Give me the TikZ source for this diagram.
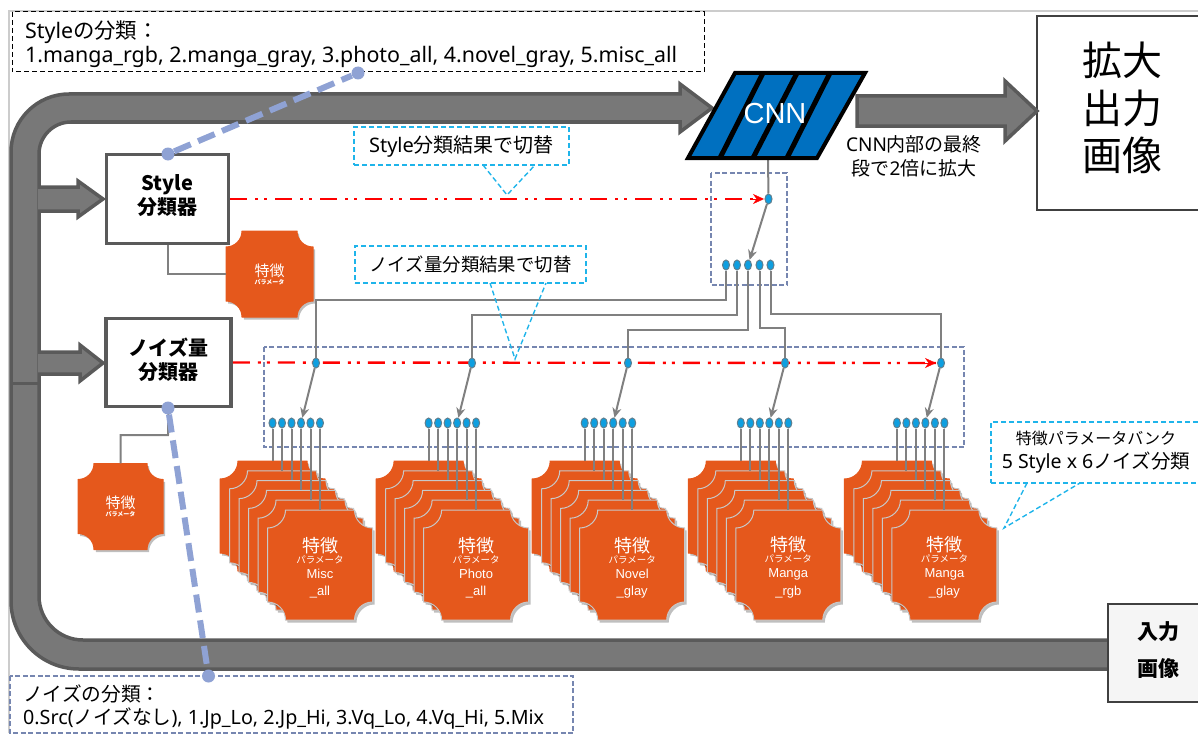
\documentclass[tikz,border=0pt]{standalone}
\usepackage{fontspec}
\setmainfont{Noto Sans}
\newfontfamily\jpfont{Noto Sans CJK JP}
\newfontfamily\arialfont{Liberation Sans}
\usetikzlibrary{positioning, arrows.meta, shapes.geometric}
\definecolor{bandfill}{HTML}{787878}
\definecolor{bandline}{HTML}{5A5A5A}
\definecolor{cardfill}{HTML}{E5581C}
\definecolor{cardline}{HTML}{C8C8C8}
\definecolor{cnnfill}{HTML}{0070C0}
\definecolor{pinblue}{HTML}{8FA2D4}
\definecolor{calloutblue}{HTML}{1FB4EA}
\definecolor{dotblue}{HTML}{0E9FE0}
\definecolor{dotline}{HTML}{5F7F8F}
\definecolor{navydash}{HTML}{7686B0}
\definecolor{wiregray}{HTML}{808080}
\definecolor{framegray}{HTML}{CCCCCC}

% card with hollow corners: name, centre x, centre y, half width, half height, corner, edge colour
\newcommand{\paramcard}[7]{
  \begin{scope}[shift={(#2,#3)}]
    \fill[black, opacity=0.25, shift={(2,2.5)}] \cardoutline{#4}{#5}{#6};
    \filldraw[fill=cardfill, draw=#7, line width=1pt] \cardoutline{#4}{#5}{#6};
  \end{scope}
  \node[minimum width=2*#4pt, minimum height=2*#5pt, inner sep=0pt] (#1) at (#2,#3) {};
}
\newcommand{\cardoutline}[3]{
  ({-#1+#3},{-#2}) -- ({#1-#3},{-#2})
  .. controls ({#1-#3},{-#2+0.55*#3}) and ({#1-0.55*#3},{-#2+#3}) .. ({#1},{-#2+#3})
  -- ({#1},{#2-#3})
  .. controls ({#1-0.55*#3},{#2-#3}) and ({#1-#3},{#2-0.55*#3}) .. ({#1-#3},{#2})
  -- ({-#1+#3},{#2})
  .. controls ({-#1+#3},{#2-0.55*#3}) and ({-#1+0.55*#3},{#2-#3}) .. ({-#1},{#2-#3})
  -- ({-#1},{-#2+#3})
  .. controls ({-#1+0.55*#3},{-#2+#3}) and ({-#1+#3},{-#2+0.55*#3}) .. cycle
}

\begin{document}
\begin{tikzpicture}[
    x=1pt, y=-1pt,
    >=Stealth,
    bandarrow/.style={fill=bandfill, draw=bandline, line width=3.5pt, line join=miter},
    clfbox/.style={draw=bandline, line width=3.5pt, fill=white, inner sep=0pt},
    clftext/.style={inner sep=0pt, align=center, font=\jpfont\bfseries\fontsize{20}{24}\selectfont},
    notebox/.style={fill=white, align=left, anchor=west, inner sep=0pt},
    callout/.style={draw=calloutblue, line width=1.4pt, dash pattern=on 5pt off 3pt, fill=white,
                    align=center, inner sep=0pt},
    calloutedge/.style={draw=calloutblue, line width=1.4pt, dash pattern=on 5pt off 3pt},
    wire/.style={draw=wiregray, line width=2pt},
    switcharrow/.style={draw=wiregray, line width=2pt, -{Stealth[length=10pt, width=9pt]}},
    seldot/.style={ellipse, draw=dotline, fill=dotblue, line width=1pt, minimum width=7pt,
                   minimum height=10pt, inner sep=0pt},
    redchain/.style={draw=red, line width=2.4pt, dash pattern=on 17pt off 8pt on 3pt off 6pt on 3pt off 8pt},
    redtip/.style={draw=red, -{Stealth[length=11pt, width=10pt]}},
    navybox/.style={draw=navydash, line width=1.1pt, dash pattern=on 5pt off 2.5pt},
    bluepin/.style={circle, fill=pinblue, minimum size=13pt, inner sep=0pt},
    bluedash/.style={draw=pinblue, line width=6pt, dash pattern=on 18pt off 8pt},
    cardtext/.style={text=white, align=center, inner sep=0pt},
]
\path[use as bounding box, clip] (0,0) rectangle (1198,733);

% frame
\draw[framegray, line width=1.5pt] (9,733) -- (9,11) -- (1198,11);

% input band round to the CNN
\draw[bandarrow] (1115,669) [rounded corners=68pt] -- (11,669) [rounded corners=58pt] -- (11,94)
  [sharp corners] -- (680,94) -- (680,84) -- (712,108) -- (680,132) -- (680,122)
  [rounded corners=32pt] -- (39,122) [rounded corners=44pt] -- (39,640) [sharp corners] -- (1115,640) -- cycle;
\draw[bandline, line width=3pt] (12,383) -- (38,383);

% branch arrows
\draw[bandarrow] (38,187) -- (78,187) -- (78,181) -- (103,199) -- (78,217) -- (78,211) -- (38,211);
\draw[bandarrow] (38,352) -- (80,352) -- (80,345) -- (103,363) -- (80,381) -- (80,374) -- (38,374);

% classifiers
\node[clfbox, minimum width=122pt, minimum height=89pt] (styleclf) at (167.5,199) {};
\node[clftext] (styleclftext) at (167.5,196) {Style\\分類器};
\node[clfbox, minimum width=125pt, minimum height=88pt] (noiseclf) at (168.5,362.5) {};
\node[clftext] (noiseclftext) at (168.5,360) {ノイズ量\\分類器};

% parameter cards of the classifiers
\paramcard{stylecard}{269.5}{274}{43.5}{43}{16}{cardfill}
\node[cardtext] (stylecardtext) at (269.5,274) {{\jpfont\fontsize{15}{17}\selectfont 特徴}\\[-4pt]{\jpfont\bfseries\fontsize{6}{8}\selectfont パラメータ}};
\paramcard{noisecard}{120.5}{506.5}{42.5}{43}{16}{cardfill}
\node[cardtext] (noisecardtext) at (120.5,506.5) {{\jpfont\fontsize{15}{17}\selectfont 特徴}\\[-4pt]{\jpfont\bfseries\fontsize{6}{8}\selectfont パラメータ}};
\draw[wire] (styleclf.south) -- (styleclf.south |- stylecard.west) -- (stylecard.west);
\draw[wire] (noiseclf.south) -- (168,435) -- (noisecard.north |- 0,435) -- (noisecard.north);

% selector boxes
\draw[navybox] (711,173) rectangle (787,285);
\draw[navybox] (264,347) rectangle (964,447);

% red control lines
\coordinate (topredend) at (764,199);
\coordinate (bankredend) at (936,363);
\draw[redchain] (styleclf.east) -- (topredend);
\draw[redchain] (noiseclf.east) -- (bankredend);
\draw[redtip] (752,199) -- (topredend);
\draw[redtip] (924,363) -- (bankredend);

% top selector
\node[seldot] (swtop) at (768.5,199) {};
\foreach \i/\sx in {0/726,1/737,2/748,3/759.5,4/770.5}
  \node[seldot] (sel\i) at (\sx,265) {};
\foreach \g/\sx in {0/316,1/472,2/628,3/785,4/941}
  \node[seldot] (sw\g) at (\sx,363) {};
\coordinate (cnnout) at (768,158);
\draw[wire] (cnnout) -- (swtop);
\draw[switcharrow] (swtop) -- (sel2);
\draw[wire] (sel0) -- (sel0 |- 0,300) -- (sw0 |- 0,300) -- (sw0);
\draw[wire] (sel1) -- (sel1 |- 0,315) -- (sw1 |- 0,315) -- (sw1);
\draw[wire] (sel2) -- (sel2 |- 0,330) -- (sw2 |- 0,330) -- (sw2);
\draw[wire] (sel3) -- (sel3 |- 0,328) -- (sw3 |- 0,328) -- (sw3);
\draw[wire] (sel4) -- (sel4 |- 0,314) -- (sw4 |- 0,314) -- (sw4);

% parameter bank
\foreach \g in {0,...,4} {
  \foreach \k in {0,...,5} {
    \pgfmathsetmacro{\cx}{272.5+156.1*\g+9.5*\k}
    \pgfmathsetmacro{\cy}{516+9.8*\k}
    \ifnum\k=0 \def\cardedge{cardfill}\else \def\cardedge{cardline}\fi
    \paramcard{card\g-\k}{\cx}{\cy}{52.5}{55}{18}{\cardedge}
    \node[seldot] (dot\g-\k) at (\cx,423) {};
  }
  \foreach \k in {0,...,5}
    \draw[wire] (dot\g-\k) -- (card\g-\k.north);
  \draw[switcharrow] (sw\g) -- (dot\g-3);
}
\foreach \g/\first/\second in {0/Misc/\_all,1/Photo/\_all,2/Novel/\_glay,3/Manga/\_rgb,4/Manga/\_glay}
  \node[cardtext] (cardtext\g) at ([yshift=-2.5pt]card\g-5.center) {%
    {\jpfont\fontsize{18}{19}\selectfont 特徴}\\[-1pt]
    {\jpfont\fontsize{9.5}{10}\selectfont パラメータ}\\[3pt]
    {\arialfont\fontsize{13}{16}\selectfont \first}\\[5pt]
    {\arialfont\fontsize{13}{16}\selectfont \second}};

% CNN
\filldraw[fill=cnnfill, draw=black, line width=4pt, line join=miter] (735,73) -- (865,73) -- (817,158) -- (688,158) -- cycle;
\draw[black, line width=5pt] (763,73) -- (720,158);
\draw[black, line width=5pt] (797,73) -- (753,158);
\draw[black, line width=5pt] (830,73) -- (787,158);
\node[text=white, inner sep=0pt, font=\arialfont\fontsize{29}{30}\selectfont] (cnn) at (775,114) {CNN};

% output
\node[draw=black!75, line width=2.5pt, fill=white, minimum width=170pt, minimum height=194pt, inner sep=0pt] (output) at (1122,113) {};
\node[align=center, inner sep=0pt, font=\jpfont\fontsize{40}{47.5}\selectfont] (outputtext) at (1122,108) {拡大\\出力\\画像};
\draw[bandarrow] (857,96) -- (1005,96) -- (1005,81) -- (1037,111) -- (1005,141) -- (1005,126) -- (857,126) -- cycle;
\node[align=center, inner sep=0pt, font=\fontsize{19}{24}\selectfont] (upnote) at (914,156)
      {CNN{\jpfont 内部の最終}\\{\jpfont 段で}2{\jpfont 倍に拡大}};

% input
\node[draw=black!75, line width=2pt, fill=black!4, minimum width=110pt, minimum height=98pt, inner sep=0pt] (input) at (1163,653) {};
\node[align=center, inner sep=0pt, font=\jpfont\bfseries\fontsize{21}{37}\selectfont] (inputtext) at (1158,650) {入力\\画像};

% notes
\draw[draw=black, fill=white, line width=1pt, dash pattern=on 5pt off 3pt] (12,12) rectangle (704,72);
\node[notebox, font=\fontsize{21.4}{24}\selectfont] (stylenote) at (25,44.5) {Style{\jpfont の分類：}\\1.manga\_rgb, 2.manga\_gray, 3.photo\_all, 4.novel\_gray, 5.misc\_all};
\draw[navybox, fill=white] (10,676) rectangle (573,733);
\node[notebox, font=\fontsize{19.7}{23}\selectfont] (noisenote) at (23,706.5) {{\jpfont ノイズの分類：}\\0.Src({\jpfont ノイズなし}), 1.Jp\_Lo, 2.Jp\_Hi, 3.Vq\_Lo, 4.Vq\_Hi, 5.Mix};

% callouts
\node[callout, minimum width=215pt, minimum height=38pt, font=\fontsize{20}{24}\selectfont] (stylecall) at (461.5,146) {Style{\jpfont 分類結果で切替}};
\coordinate (stylecalltip) at (507,195);
\draw[calloutedge] (483,165) -- (stylecalltip) -- (535,165);
\node[callout, minimum width=231pt, minimum height=37pt, font=\jpfont\fontsize{18.4}{24}\selectfont] (noisecall) at (470.5,264.5) {ノイズ量分類結果で切替};
\coordinate (noisecalltip) at (515,359);
\draw[calloutedge] (490,283) -- (noisecalltip) -- (546,283);
\node[callout, minimum width=225pt, minimum height=61pt] (bankcall) at (1103.5,452.5) {};
\node[inner sep=0pt, align=center] (bankcalltext) at (1096,452) {{\jpfont\fontsize{16}{24}\selectfont 特徴パラメータバンク}\\[5pt]{\fontsize{19.5}{24}\selectfont 5 Style x 6{\jpfont ノイズ分類}}};
\coordinate (bankcalltip) at (1004,528);
\draw[calloutedge] (1027,483) -- (bankcalltip) -- (1080,483);

% pins from classifiers to their class lists
\node[bluepin] (stylepin) at (168,154) {};
\node[bluepin] (stylelistpin) at (358,73) {};
\draw[bluedash] (stylepin) -- (stylelistpin);
\node[bluepin] (noisepin) at (168,408) {};
\node[bluepin] (noiselistpin) at (208.5,676) {};
\draw[bluedash] (noisepin) -- (noiselistpin);

\end{tikzpicture}
\end{document}
